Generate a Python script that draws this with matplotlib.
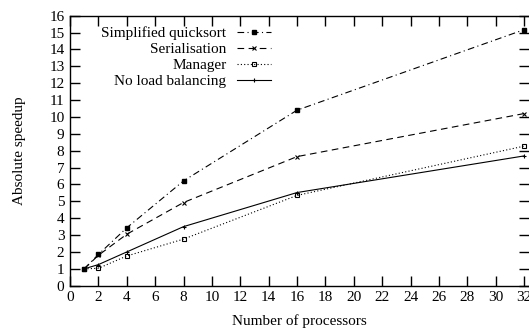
import numpy as np
import matplotlib
matplotlib.use("Agg")
import matplotlib.pyplot as plt

plt.rcParams['font.family'] = ['Liberation Serif', 'DejaVu Serif']

procs = [1, 2, 4, 8, 16, 32]
quicksort = [1.0, 1.85, 3.43, 6.21, 10.4, 15.17]
serialisation = [1.0, 1.8, 3.05, 4.93, 7.65, 10.2]
manager = [1.0, 1.03, 1.76, 2.76, 5.35, 8.27]
no_lb = [1.0, 1.25, 2.0, 3.5, 5.52, 7.69]

fig = plt.figure(figsize=(5.29, 3.29), dpi=100)
ax = fig.add_axes([70/529, 1-285.7/329, 1-70/529, (285.7-15.7)/329])

lw = 0.8
ax.plot(procs, quicksort, color='black', lw=lw, ls=(0, (6, 3, 1, 3)),
        marker='s', ms=2.5, label='Simplified quicksort')
ax.plot(procs, serialisation, color='black', lw=lw, ls=(0, (6, 4)),
        marker='x', ms=3, mew=0.8, label='Serialisation')
ax.plot(procs, manager, color='black', lw=lw, ls=(0, (1, 2)),
        marker='s', ms=3, mfc='none', mew=0.8, label='Manager')
ax.plot(procs, no_lb, color='black', lw=lw, ls='-',
        marker='+', ms=3, mew=0.8, label='No load balancing')

ax.set_xlim(0, 32.35)
ax.set_ylim(0, 16)
ax.set_xticks(np.arange(0, 33, 2))
ax.set_yticks(np.arange(0, 17, 1))
ax.tick_params(direction='in', length=7, width=1, top=True, right=True,
               labelsize=11, pad=4)
for s in ax.spines.values():
    s.set_linewidth(1)
ax.spines['right'].set_visible(False)

ax.set_xlabel('Number of processors', fontsize=11, labelpad=7)
ax.set_ylabel('Absolute speedup', fontsize=11, labelpad=17)

ax.legend(loc='upper left', bbox_to_anchor=(0.045, 1.0), frameon=False,
          markerfirst=False, fontsize=11, handlelength=2.2,
          labelspacing=0.15, handletextpad=0.7, borderaxespad=0.3)

fig.savefig('out.png', dpi=100)
